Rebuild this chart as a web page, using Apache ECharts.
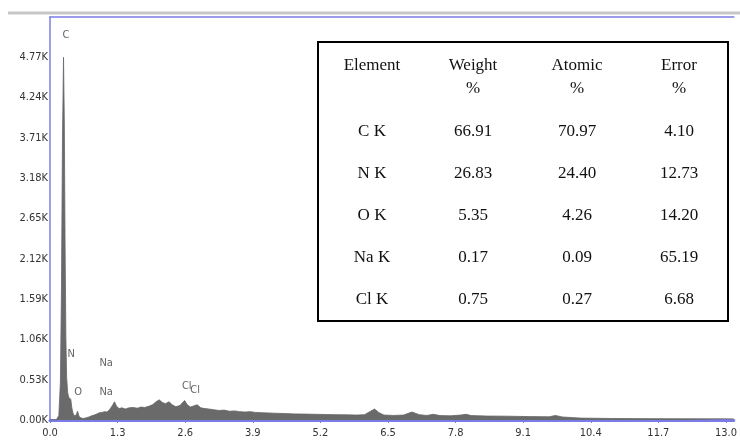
<!DOCTYPE html>
<html><head><meta charset="utf-8">
<script src="https://cdn.jsdelivr.net/npm/echarts@6/dist/echarts.min.js"></script>
<style>html,body{margin:0;padding:0;background:#fff}#c{width:740px;height:446px}</style>
</head><body><div id="c"></div>
<script>
// Spectrum (energy keV, counts)
const energy = [0.00,0.12,0.17,0.20,0.22,0.24,0.26,0.275,0.29,0.305,0.32,0.34,0.36,0.38,0.40,0.42,0.44,0.46,0.48,0.50,0.53,0.56,0.60,0.65,0.70,0.75,0.80,0.85,0.90,0.95,1.00,1.05,1.10,1.15,1.20,1.24,1.28,1.33,1.38,1.45,1.52,1.60,1.68,1.75,1.82,1.90,1.97,2.04,2.10,2.16,2.22,2.29,2.35,2.42,2.50,2.55,2.59,2.64,2.70,2.76,2.83,2.90,2.98,3.05,3.15,3.25,3.35,3.45,3.55,3.65,3.75,3.85,3.95,4.10,4.30,4.50,4.70,4.90,5.10,5.30,5.50,5.70,5.90,6.05,6.15,6.24,6.32,6.42,6.60,6.80,6.96,7.10,7.25,7.37,7.50,7.70,7.90,8.00,8.10,8.40,8.80,9.20,9.60,9.72,9.85,10.2,10.8,11.5,12.2,13.15];
const counts = [0,0,60,500,1700,3700,4770,3950,2300,1100,560,360,300,320,270,160,95,60,35,60,115,45,25,20,30,40,55,65,80,95,100,110,105,140,190,240,180,150,160,145,160,165,155,170,165,180,200,240,265,230,215,240,200,175,190,230,255,200,170,185,200,160,150,145,135,125,130,115,120,110,105,110,100,95,90,85,80,78,75,72,70,68,65,70,110,145,100,65,60,65,105,70,60,75,58,55,65,75,58,52,50,45,42,60,40,25,20,18,16,15];
// Peak labels
const peakNames = ['C','N','O','Na','Na','Cl','Cl'];
const peakE = [0.305,0.41,0.54,1.08,1.08,2.63,2.79];
const peakC = [5060,860,372,750,372,440,395];
// Axis ticks
const xTicks = [0.0,1.3,2.6,3.9,5.2,6.5,7.8,9.1,10.4,11.7,13.0];
const yTicks = [0,530,1060,1590,2120,2650,3180,3710,4240,4770];
// Table
const tableHeader1 = ['Element','Weight','Atomic','Error'];
const tableHeader2 = ['','%','%','%'];
const tableElements = ['C K','N K','O K','Na K','Cl K'];
const weightPct = ['66.91','26.83','5.35','0.17','0.75'];
const atomicPct = ['70.97','24.40','4.26','0.09','0.27'];
const errorPct = ['4.10','12.73','14.20','65.19','6.68'];

const chart = echarts.init(document.getElementById('c'));
const axisFont = {fontFamily:'"DejaVu Sans Condensed","Liberation Sans Narrow","Noto Sans",sans-serif', fontSize:11, color:'#333'};

const colX = [372,473,577,679];
const rowY = [132,174,216,258,300];
const serif = '"Liberation Serif","Times New Roman",serif';
const tg = [];
tg.push({type:'rect', shape:{x:318,y:42,width:410,height:279}, style:{fill:'#fff',stroke:'#000',lineWidth:2}});
tableHeader1.forEach((t,i)=>tg.push({type:'text', x:colX[i], y:66, style:{text:t, font:'17px '+serif, fill:'#111', align:'center', verticalAlign:'middle'}}));
tableHeader2.forEach((t,i)=>tg.push({type:'text', x:colX[i], y:89, style:{text:t, font:'17px '+serif, fill:'#111', align:'center', verticalAlign:'middle'}}));
const cols = [tableElements, weightPct, atomicPct, errorPct];
cols.forEach((col,ci)=>col.forEach((t,ri)=>tg.push({type:'text', x:colX[ci], y:rowY[ri], style:{text:t, font:'17px '+serif, fill:'#111', align:'center', verticalAlign:'middle'}})));

chart.setOption({
  animation:false,
  grid:{left:50, right:0, top:17, bottom:26},
  xAxis:[{
    type:'value', min:0, max:13.15, position:'bottom',
    axisLine:{lineStyle:{color:'#7c7ce6', width:3}},
    axisTick:{show:true, customValues:xTicks, length:3, inside:false, lineStyle:{color:'#7c7ce6'}},
    axisLabel:Object.assign({customValues:xTicks, margin:8, formatter:v=>v.toFixed(1)}, axisFont),
    splitLine:{show:false}
  },{
    type:'value', min:0, max:13.15, position:'top',
    axisLine:{show:true, lineStyle:{color:'#7c7ce6', width:1.5}},
    axisTick:{show:false}, axisLabel:{show:false}, splitLine:{show:false}
  }],
  yAxis:{
    type:'value', min:0, max:5300,
    axisLine:{show:true, lineStyle:{color:'#7c7ce6', width:1.5}},
    axisTick:{show:false},
    axisLabel:Object.assign({customValues:yTicks, margin:2, formatter:v=>(v/1000).toFixed(2)+'K'}, axisFont),
    splitLine:{show:false}
  },
  series:[{
    type:'line', data:energy.map((e,i)=>[e,counts[i]]), showSymbol:false, symbol:'none',
    lineStyle:{color:'#666', width:0.8}, areaStyle:{color:'#6a6a6a', opacity:1}, z:2
  },{
    type:'scatter', data:peakNames.map((n,i)=>({name:n, value:[peakE[i],peakC[i]]})),
    symbolSize:0, z:3,
    label:{show:true, position:'inside', formatter:p=>p.name, fontFamily:'"DejaVu Sans Condensed","Noto Sans",sans-serif', fontSize:11, color:'#3a3a3a'}
  }],
  graphic:[
    {type:'line', shape:{x1:8,y1:13,x2:740,y2:13}, style:{stroke:'#c8c8c8', lineWidth:3}},
    {type:'group', children:tg}
  ]
});
</script></body></html>
